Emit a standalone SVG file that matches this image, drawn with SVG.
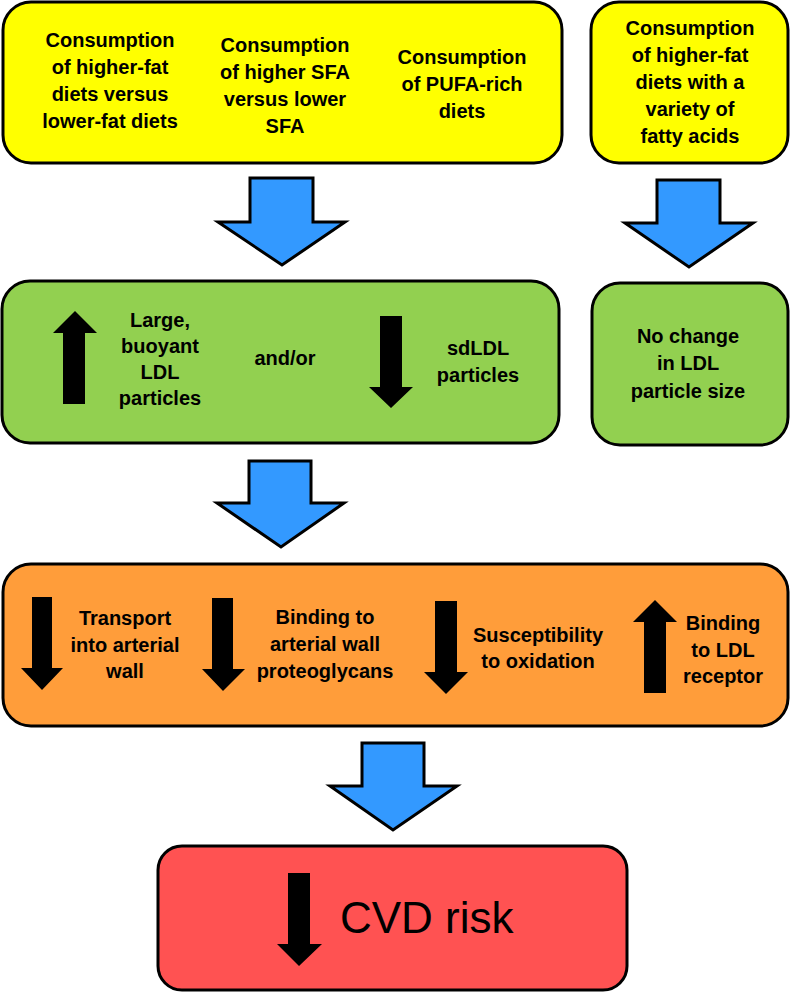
<svg xmlns="http://www.w3.org/2000/svg" width="790" height="993" viewBox="0 0 790 993">
<style>
.box{stroke:#000;stroke-width:3}
.y{fill:#FFFF00}.g{fill:#92D050}.o{fill:#FF9D3A}.r{fill:#FF5252}
.blue{fill:#3399FF;stroke:#000;stroke-width:3;stroke-linejoin:miter}
.blk{fill:#000}
text{font-family:"Liberation Sans",Arial,sans-serif;font-weight:bold;font-size:20px;fill:#000;text-anchor:middle}
.big{font-weight:normal;font-size:44px;text-anchor:start}
</style>
<rect width="790" height="993" fill="#fff"/>
<g id="n_yellow1">
<rect class="box y" x="3" y="2" width="559" height="161" rx="28"/>
<text x="110" y="47">Consumption</text>
<text x="110" y="74">of higher-fat</text>
<text x="110" y="101">diets versus</text>
<text x="110" y="128">lower-fat diets</text>
<text x="285" y="52">Consumption</text>
<text x="285" y="79">of higher SFA</text>
<text x="285" y="106">versus lower</text>
<text x="285" y="133">SFA</text>
<text x="462" y="64">Consumption</text>
<text x="462" y="91">of PUFA-rich</text>
<text x="462" y="118">diets</text>
</g>
<g id="n_yellow2">
<rect class="box y" x="591" y="2" width="197" height="161" rx="28"/>
<text x="690" y="35">Consumption</text>
<text x="690" y="62">of higher-fat</text>
<text x="690" y="89">diets with a</text>
<text x="690" y="116">variety of</text>
<text x="690" y="143">fatty acids</text>
</g>
<g id="n_green1">
<rect class="box g" x="2" y="281" width="557" height="162" rx="28"/>
<polygon class="blk" points="63,404 85,404 85,333 97,333 75,311 53,333 63,333"/>
<text x="160" y="327">Large,</text>
<text x="160" y="353">buoyant</text>
<text x="160" y="379">LDL</text>
<text x="160" y="405">particles</text>
<text x="285" y="365">and/or</text>
<polygon class="blk" points="380,316 402,316 402,387 413,387 391,408 369,387 380,387"/>
<text x="478" y="355">sdLDL</text>
<text x="478" y="382">particles</text>
</g>
<g id="n_green2">
<rect class="box g" x="592" y="283" width="196" height="162" rx="28"/>
<text x="688" y="343">No change</text>
<text x="688" y="370">in LDL</text>
<text x="688" y="398">particle size</text>
</g>
<g id="n_orange">
<rect class="box o" x="3" y="564" width="785" height="162" rx="28"/>
<polygon class="blk" points="32,597 52,597 52,668 63,668 42,690 21,668 32,668"/>
<text x="125" y="625">Transport</text>
<text x="125" y="652">into arterial</text>
<text x="125" y="678">wall</text>
<polygon class="blk" points="212,598 233,598 233,669 245,669 223,691 202,669 212,669"/>
<text x="325" y="624">Binding to</text>
<text x="325" y="651">arterial wall</text>
<text x="325" y="678">proteoglycans</text>
<polygon class="blk" points="435,601 457,601 457,672 468,672 446,694 424,672 435,672"/>
<text x="538" y="642">Susceptibility</text>
<text x="538" y="668">to oxidation</text>
<polygon class="blk" points="644,693 666,693 666,622 677,622 655,600 633,622 644,622"/>
<text x="723" y="630">Binding</text>
<text x="723" y="657">to LDL</text>
<text x="723" y="683">receptor</text>
</g>
<g id="n_red">
<rect class="box r" x="158" y="846" width="469" height="144" rx="24"/>
<polygon class="blk" points="288,873 310,873 310,944 322,944 299,966 277,944 288,944"/>
<text class="big" x="340" y="933">CVD risk</text>
</g>
<g id="connectors">
<polygon class="blue" points="250,178 313,178 313,222 345,222 282,265 218,222 250,222"/>
<polygon class="blue" points="657,180 720,180 720,223 753,223 689,267 625,223 657,223"/>
<polygon class="blue" points="249,461 311,461 311,503 344,503 281,547 217,503 249,503"/>
<polygon class="blue" points="362,743 424,743 424,786 457,786 393,830 330,786 362,786"/>
</g>
</svg>
